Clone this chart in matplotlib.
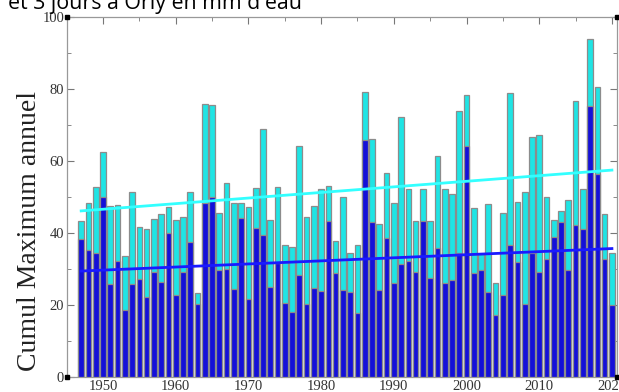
import numpy as np
import matplotlib
matplotlib.use("Agg")
import matplotlib.pyplot as plt
from matplotlib.ticker import MultipleLocator

years = list(range(1947, 2021))
cumul_3j = [43.3, 48.2, 52.9, 62.5, 47.5, 47.8, 33.6, 51.4, 41.8, 41.0,
            43.9, 45.4, 47.3, 43.6, 44.4, 51.4, 23.2, 75.8, 75.5, 45.5,
            53.8, 48.2, 48.2, 47.3, 52.6, 68.9, 43.6, 52.9, 36.7, 36.2,
            64.3, 44.4, 47.5, 52.3, 53.1, 37.8, 49.9, 34.4, 36.7, 79.3,
            66.0, 42.5, 56.6, 48.4, 72.3, 52.2, 43.3, 52.3, 43.3, 61.5,
            52.3, 50.8, 73.9, 78.3, 47.0, 34.2, 48.1, 26.0, 45.5, 79.0,
            48.6, 51.3, 66.6, 67.3, 50.1, 43.6, 46.1, 49.2, 76.7, 52.3,
            93.9, 80.5, 45.3, 34.4]
cumul_1j = [38.2, 35.3, 34.4, 50.1, 25.7, 32.3, 18.6, 25.7, 27.1, 22.3,
            29.1, 26.3, 39.9, 22.7, 29.1, 37.4, 20.2, 48.2, 50.1, 29.7,
            29.9, 24.4, 44.3, 21.7, 41.5, 39.4, 24.9, 31.6, 20.5, 18.1,
            28.2, 20.2, 24.6, 24.0, 43.4, 29.0, 24.2, 23.5, 17.7, 65.8,
            43.1, 24.2, 38.5, 26.0, 31.4, 32.2, 29.3, 43.4, 27.4, 35.7,
            26.0, 26.9, 34.5, 64.3, 29.0, 29.7, 23.5, 17.2, 22.9, 36.7,
            31.9, 20.3, 34.4, 29.1, 32.8, 39.0, 43.1, 29.7, 42.2, 41.0,
            75.3, 56.4, 32.8, 20.0]
x_ticks = [1950, 1960, 1970, 1980, 1990, 2000, 2010, 2020]
y_ticks = [0, 20, 40, 60, 80, 100]
title_text = "et 3 jours à Orly en mm d'eau"
ylabel_text = "Cumul Maximum annuel"

yrs = np.array(years, dtype=float)
c3 = np.array(cumul_3j)
c1 = np.array(cumul_1j)

fig = plt.figure(figsize=(6.19, 3.92), dpi=100)
ax = fig.add_axes([67/619, 1 - 377/392, 550/619, 360/392])

edge = "#8c8c8c"
ax.bar(yrs, c3, width=0.78, color="#1fe4e4", edgecolor=edge, linewidth=0.9, zorder=2)
ax.bar(yrs, c1, width=0.78, color="#1410d8", edgecolor=edge, linewidth=0.9, zorder=3)

p3 = np.polyfit(yrs, c3, 1)
p1 = np.polyfit(yrs, c1, 1)
ax.plot(yrs, np.polyval(p3, yrs), color="#33ffff", lw=2.0, zorder=4)
ax.plot(yrs, np.polyval(p1, yrs), color="#1a1aff", lw=2.0, zorder=4)

ax.set_xlim(1945.05, 2020.7)
ax.set_ylim(0, 100)
ax.set_xticks(x_ticks)
ax.set_yticks(y_ticks)
ax.xaxis.set_minor_locator(MultipleLocator(5))
ax.yaxis.set_minor_locator(MultipleLocator(10))
ax.tick_params(which="both", direction="in", top=True, right=True,
               color="#777777", labelcolor="#333333", labelsize=10.5,
               pad=2)
ax.tick_params(which="major", length=5)
ax.tick_params(which="minor", length=3)
for lab in ax.get_xticklabels() + ax.get_yticklabels():
    lab.set_fontfamily("Liberation Serif")
for s in ax.spines.values():
    s.set_color("#999999")
    s.set_linewidth(0.9)

for (xx, yy) in [(1945.05, 0), (1945.05, 100), (2020.7, 0), (2020.7, 100)]:
    ax.plot([xx], [yy], marker="s", ms=3, color="black", clip_on=False, zorder=6)

ax.set_ylabel(ylabel_text, fontfamily="Liberation Serif", fontsize=20,
              color="#222222")
ax.yaxis.set_label_coords(-0.045, 0.405)

fig.text(8/619, 1 - 8.5/392, title_text, fontfamily="Open Sans", fontsize=15.4,
         color="black", va="baseline", ha="left")

fig.savefig("out.png", dpi=100)
